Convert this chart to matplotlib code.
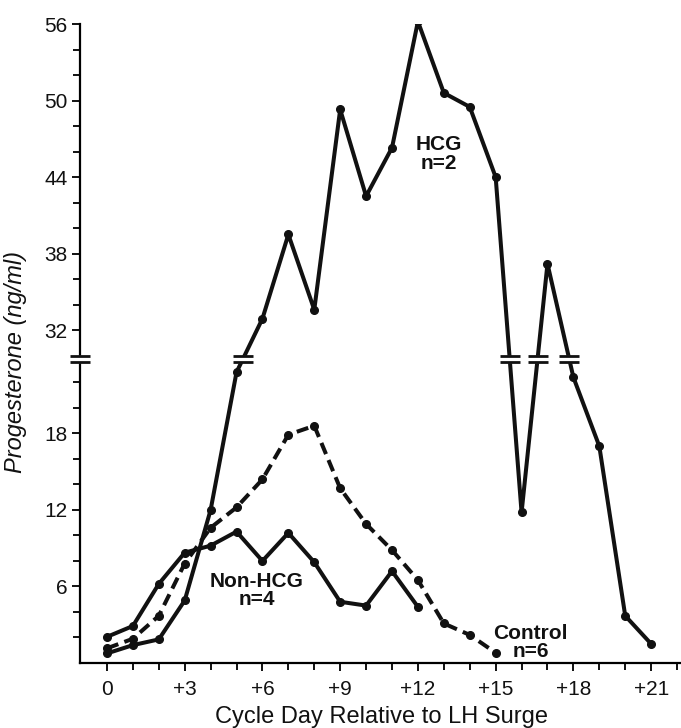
import matplotlib
matplotlib.use("Agg")
import matplotlib.pyplot as plt
import matplotlib.transforms as mtransforms
import numpy as np

# cycle days relative to LH surge
days_hcg = list(range(0, 22))
days_non = list(range(0, 13))
days_ctrl = list(range(0, 16))

# progesterone (ng/ml)
hcg = [0.75, 1.4, 1.85, 4.9, 12.0, 22.8, 32.9, 39.5, 33.6, 49.3, 42.5,
       46.3, 56.2, 50.6, 49.5, 44.0, 11.8, 37.2, 22.4, 17.0, 3.7, 1.5]
non_hcg = [2.05, 2.9, 6.2, 8.65, 9.2, 10.3, 8.0, 10.2, 7.9, 4.8, 4.5, 7.2, 4.4]
control = [1.15, 1.9, 3.7, 7.8, 10.6, 12.2, 14.4, 17.9, 18.6, 13.7, 10.9,
           8.85, 6.5, 3.1, 2.2, 0.8]

x_major = [0, 3, 6, 9, 12, 15, 18, 21]
x_labels = ["0", "+3", "+6", "+9", "+12", "+15", "+18", "+21"]
y_major = [6, 12, 18, 32, 38, 44, 50, 56]
y_minor = [2, 4, 8, 10, 14, 16, 20, 22, 34, 36, 40, 42, 46, 48, 52, 54]

# broken y axis: 0..LO and HI..56, separated by a small gap
LO, HI, GAP = 23.6, 30.0, 0.5


def forward(v):
    v = np.asarray(v, dtype=float)
    return np.where(v <= LO, v,
                    np.where(v >= HI, v - HI + LO + GAP,
                             LO + (v - LO) * GAP / (HI - LO)))


def inverse(u):
    u = np.asarray(u, dtype=float)
    return np.where(u <= LO, u,
                    np.where(u >= LO + GAP, u - LO - GAP + HI,
                             LO + (u - LO) * (HI - LO) / GAP))


plt.rcParams['font.family'] = ['Liberation Sans', 'DejaVu Sans']
ink = '#111111'

fig = plt.figure(figsize=(6.81, 7.28), dpi=100)
ax = fig.add_axes([0.1175, 0.0893, 0.8805, 0.8777])
ax.set_yscale('function', functions=(forward, inverse))

lw = 2.9
ax.plot(days_hcg, hcg, color=ink, lw=lw, marker='o', ms=5.5, zorder=3)
ax.plot(days_non, non_hcg, color=ink, lw=lw, marker='o', ms=5.5, zorder=3)
ax.plot(days_ctrl, control, color=ink, lw=lw, marker='o', ms=5.5,
        dashes=(3, 1.6), zorder=3)

ax.set_xlim(-1.04, 22.1)
ax.set_ylim(0, 56)

# white band hides the lines and spine inside the break
ax.axhspan(LO, HI, xmin=-0.02, xmax=1, color='white', zorder=4, clip_on=False)

# break marks on the spine
trans = mtransforms.blended_transform_factory(ax.transAxes, ax.transData)
ax.plot([0, 0], [LO, HI], transform=trans, ls='none', marker='_', ms=15,
        mew=2, color=ink, clip_on=False, zorder=5)

# break marks where the HCG line crosses the gap
yt = forward(hcg)
mid = LO + GAP / 2
for i in range(len(hcg) - 1):
    a, b = hcg[i], hcg[i + 1]
    if (a < LO and b > HI) or (a > HI and b < LO):
        t = (mid - yt[i]) / (yt[i + 1] - yt[i])
        xc = days_hcg[i] + t * (days_hcg[i + 1] - days_hcg[i])
        ax.plot([xc, xc], [LO, HI], ls='none', marker='_', ms=15, mew=2,
                color=ink, zorder=5)

ax.spines['top'].set_visible(False)
ax.spines['right'].set_visible(False)
ax.spines['left'].set_linewidth(1.6)
ax.spines['bottom'].set_linewidth(1.6)

ax.set_xticks(x_major)
ax.set_xticklabels(x_labels)
ax.set_xticks(range(0, 23), minor=True)
ax.set_yticks(y_major)
ax.set_yticklabels([str(v) for v in y_major])
ax.set_yticks(y_minor, minor=True)
ax.tick_params(axis='both', which='major', length=6, width=1.4,
               labelsize=15, color=ink, labelcolor=ink)
ax.tick_params(axis='both', which='minor', length=5, width=1.4, color=ink)
ax.tick_params(axis='x', which='major', pad=6)
ax.tick_params(axis='y', which='major', pad=3)

ax.set_xlabel("Cycle Day Relative to LH Surge", fontsize=17, color=ink)
ax.xaxis.set_label_coords(0.502, -0.068)
ax.set_ylabel("Progesterone (ng/ml)", fontsize=17, style='italic', color=ink)
ax.yaxis.set_label_coords(-0.088, 0.471)

ax.text(12.8, 45.8, "HCG\nn=2", ha='center', va='center', fontsize=15,
        fontweight='bold', linespacing=0.95, color=ink)
ax.text(5.77, 5.7, "Non-HCG\nn=4", ha='center', va='center', fontsize=15,
        fontweight='bold', linespacing=0.95, color=ink)
ax.text(16.35, 1.6, "Control\nn=6", ha='center', va='center', fontsize=15,
        fontweight='bold', linespacing=0.95, color=ink)

fig.savefig("out.png", dpi=100, facecolor='white')
